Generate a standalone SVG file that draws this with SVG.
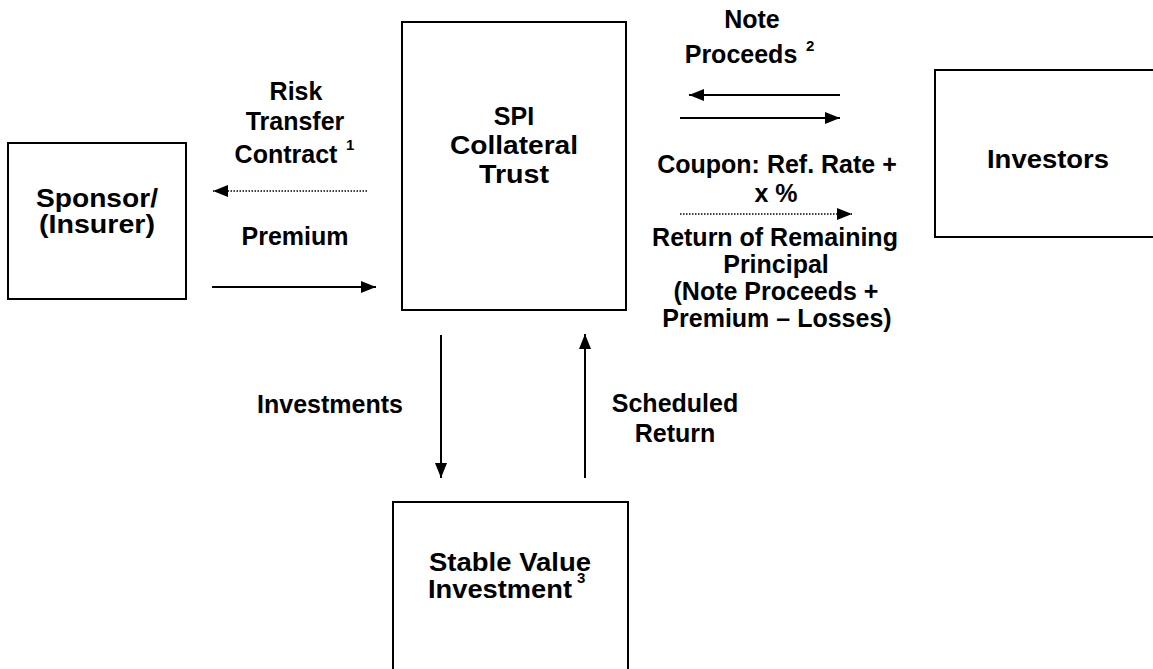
<svg xmlns="http://www.w3.org/2000/svg" width="1153" height="669" viewBox="0 0 1153 669">
<style>
.box{fill:#fff;stroke:#000;stroke-width:2}
.n{font-family:"Liberation Sans",Arial,sans-serif;font-weight:bold;font-size:25px;fill:#000;text-anchor:middle}
.t{font-family:"Liberation Sans",Arial,sans-serif;font-weight:bold;font-size:25px;fill:#000;text-anchor:middle}
.s{font-family:"Liberation Sans",Arial,sans-serif;font-weight:bold;font-size:15px;fill:#000}
.ln{stroke:#000;stroke-width:2;fill:none}
.dot{stroke:#000;stroke-width:1.5;stroke-dasharray:1.5 1.5;fill:none}
</style>
<defs>
<marker id="ah" viewBox="0 0 15 12" refX="15" refY="6" markerWidth="15" markerHeight="12" markerUnits="userSpaceOnUse" orient="auto">
<path d="M0,0 L15,6 L0,12 Z" fill="#000"/>
</marker>
</defs>
<rect width="1153" height="669" fill="#fff"/>
<g id="sponsor">
<rect class="box" x="8" y="143" width="178" height="156"/>
<text class="n" x="97" y="207" textLength="122" lengthAdjust="spacingAndGlyphs">Sponsor/</text>
<text class="n" x="97" y="233" textLength="116" lengthAdjust="spacingAndGlyphs">(Insurer)</text>
</g>
<g id="spi">
<rect class="box" x="402" y="22" width="224" height="288"/>
<text class="n" x="514" y="125">SPI</text>
<text class="n" x="514" y="154" textLength="128" lengthAdjust="spacingAndGlyphs">Collateral</text>
<text class="n" x="514" y="183" textLength="70" lengthAdjust="spacingAndGlyphs">Trust</text>
</g>
<g id="investors">
<rect class="box" x="935" y="70" width="230" height="167"/>
<text class="n" x="1048" y="168" textLength="122" lengthAdjust="spacingAndGlyphs">Investors</text>
</g>
<g id="stable">
<rect class="box" x="393" y="502" width="235" height="180"/>
<text class="n" x="510" y="571" textLength="162" lengthAdjust="spacingAndGlyphs">Stable Value</text>
<text class="n" x="500" y="598" textLength="144" lengthAdjust="spacingAndGlyphs">Investment</text>
<text class="s" x="577" y="583">3</text>
</g>
<g id="connectors">
<line class="dot" x1="367" y1="191" x2="213" y2="191" marker-end="url(#ah)"/>
<line class="ln" x1="212" y1="287" x2="376" y2="287" marker-end="url(#ah)"/>
<line class="ln" x1="840" y1="95" x2="689" y2="95" marker-end="url(#ah)"/>
<line class="ln" x1="680" y1="118" x2="840" y2="118" marker-end="url(#ah)"/>
<line class="dot" x1="680" y1="214" x2="852" y2="214" marker-end="url(#ah)"/>
<line class="ln" x1="441" y1="335" x2="441" y2="478" marker-end="url(#ah)"/>
<line class="ln" x1="585" y1="478" x2="585" y2="334" marker-end="url(#ah)"/>
</g>
<g id="labels">
<text class="t" x="296" y="100">Risk</text>
<text class="t" x="295" y="130">Transfer</text>
<text class="t" x="286" y="163">Contract</text>
<text class="s" x="346" y="150">1</text>
<text class="t" x="295" y="245">Premium</text>
<text class="t" x="752" y="28">Note</text>
<text class="t" x="741" y="63">Proceeds</text>
<text class="s" x="806" y="51">2</text>
<text class="t" x="777" y="173">Coupon: Ref. Rate +</text>
<text class="t" x="776" y="202">x %</text>
<text class="t" x="775" y="246">Return of Remaining</text>
<text class="t" x="776" y="273">Principal</text>
<text class="t" x="776" y="300">(Note Proceeds +</text>
<text class="t" x="777" y="327">Premium – Losses)</text>
<text class="t" x="330" y="413">Investments</text>
<text class="t" x="675" y="412">Scheduled</text>
<text class="t" x="675" y="442">Return</text>
</g>
</svg>
